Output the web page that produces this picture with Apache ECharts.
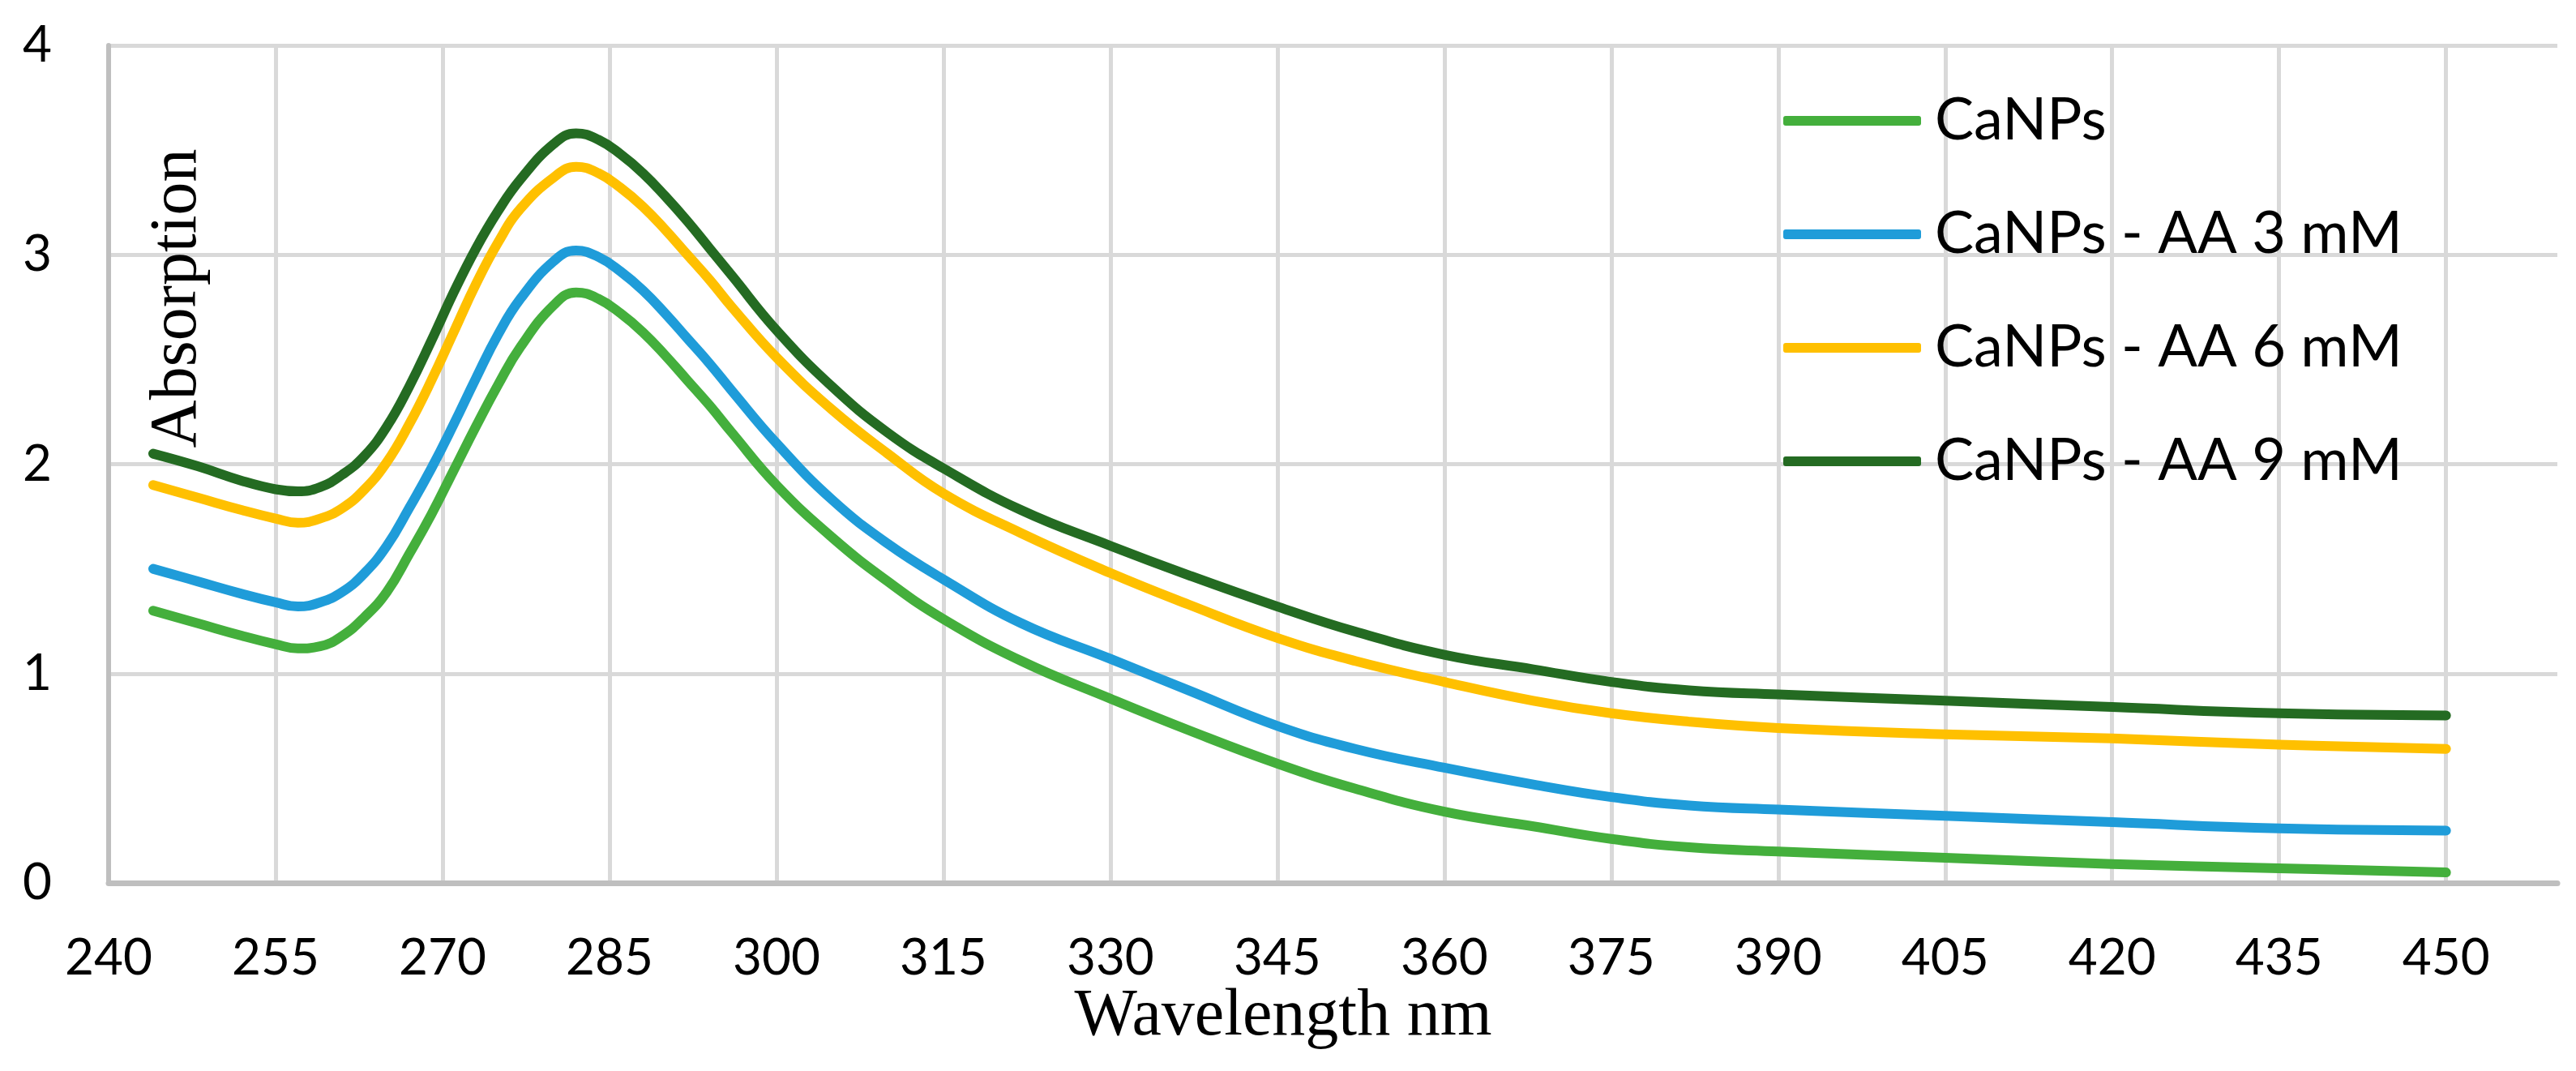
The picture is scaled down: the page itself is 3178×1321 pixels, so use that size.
<!DOCTYPE html>
<html>
<head>
<meta charset="utf-8">
<script src="https://cdn.jsdelivr.net/npm/echarts@6/dist/echarts.min.js"></script>
<style>
html,body{margin:0;padding:0;background:#fff;}
#chart{width:3178px;height:1321px;}
</style>
</head>
<body>
<div id="chart"></div>
<script>
const wavelengths = [244, 248, 252, 255, 257, 259, 261, 263, 265, 267, 269, 271, 273, 275, 277, 280, 282, 284, 286, 288, 290, 292, 294, 296, 300, 305, 310, 315, 322, 330, 337, 345, 352, 360, 368, 375, 382, 390, 405, 420, 435, 450];
const seriesNames = ['CaNPs', 'CaNPs - AA 3 mM', 'CaNPs - AA 6 mM', 'CaNPs - AA 9 mM'];
const caNPs = [1.30, 1.24, 1.18, 1.14, 1.12, 1.13, 1.18, 1.27, 1.39, 1.57, 1.76, 1.97, 2.18, 2.38, 2.56, 2.76, 2.82, 2.79, 2.72, 2.63, 2.52, 2.40, 2.28, 2.15, 1.90, 1.65, 1.44, 1.26, 1.06, 0.88, 0.73, 0.57, 0.45, 0.34, 0.27, 0.21, 0.17, 0.15, 0.12, 0.09, 0.07, 0.05];
const aa3mM = [1.50, 1.44, 1.38, 1.34, 1.32, 1.34, 1.39, 1.48, 1.61, 1.79, 1.98, 2.19, 2.41, 2.62, 2.79, 2.97, 3.02, 2.99, 2.92, 2.83, 2.72, 2.60, 2.48, 2.35, 2.10, 1.83, 1.62, 1.45, 1.24, 1.07, 0.92, 0.75, 0.64, 0.55, 0.47, 0.41, 0.37, 0.35, 0.32, 0.29, 0.26, 0.25];
const aa6mM = [1.90, 1.84, 1.78, 1.74, 1.72, 1.74, 1.79, 1.88, 2.01, 2.19, 2.40, 2.63, 2.86, 3.06, 3.22, 3.37, 3.42, 3.39, 3.32, 3.23, 3.12, 3.00, 2.88, 2.75, 2.51, 2.26, 2.05, 1.86, 1.67, 1.48, 1.33, 1.17, 1.06, 0.96, 0.87, 0.81, 0.77, 0.74, 0.71, 0.69, 0.66, 0.64];
const aa9mM = [2.05, 1.99, 1.92, 1.88, 1.87, 1.89, 1.95, 2.04, 2.18, 2.37, 2.59, 2.82, 3.03, 3.21, 3.36, 3.53, 3.58, 3.55, 3.48, 3.39, 3.28, 3.16, 3.03, 2.90, 2.64, 2.37, 2.15, 1.98, 1.78, 1.61, 1.47, 1.32, 1.20, 1.09, 1.02, 0.96, 0.92, 0.90, 0.87, 0.84, 0.81, 0.80];
const colors = ['#44AF3C', '#1F9CD9', '#FFC000', '#246B22'];
const xTicks = [240, 255, 270, 285, 300, 315, 330, 345, 360, 375, 390, 405, 420, 435, 450];
const yTicks = [0, 1, 2, 3, 4];

const allValues = [caNPs, aa3mM, aa6mM, aa9mM];
const chart = echarts.init(document.getElementById('chart'), null, {renderer: 'canvas'});
const labelFont = 'Lato, "Open Sans", sans-serif';
const serifFont = '"Liberation Serif", "DejaVu Serif", serif';

const series = seriesNames.map((name, i) => ({
  name: name,
  type: 'line',
  data: wavelengths.map((w, j) => [w, allValues[i][j]]),
  smooth: 0.45,
  showSymbol: false,
  symbol: 'none',
  lineStyle: {color: colors[i], width: 12, cap: 'round', join: 'round'},
  itemStyle: {color: colors[i]},
  emphasis: {disabled: true},
  z: 3 + i
}));

chart.setOption({
  animation: false,
  backgroundColor: '#ffffff',
  grid: {left: 134, right: 23, top: 56, bottom: 232, containLabel: false},
  xAxis: {
    type: 'value',
    min: xTicks[0],
    max: 460,
    interval: 15,
    axisLine: {show: true, lineStyle: {color: '#BFBFBF', width: 7}},
    axisTick: {show: false},
    axisLabel: {
      show: true, margin: 62, color: '#000', fontSize: 62, fontFamily: labelFont,
      showMaxLabel: false,
      formatter: v => (xTicks.indexOf(v) >= 0 ? String(v) : '')
    },
    splitLine: {show: true, showMaxLine: false, lineStyle: {color: '#D9D9D9', width: 5}}
  },
  yAxis: {
    type: 'value',
    min: yTicks[0],
    max: yTicks[yTicks.length - 1],
    interval: 1,
    axisLine: {show: true, lineStyle: {color: '#BFBFBF', width: 6}},
    axisTick: {show: false},
    axisLabel: {show: true, margin: 70, color: '#000', fontSize: 62, fontFamily: labelFont},
    splitLine: {show: true, lineStyle: {color: '#D9D9D9', width: 5}}
  },
  legend: {
    orient: 'vertical',
    left: 2195,
    top: 108,
    itemWidth: 170,
    itemHeight: 12,
    itemGap: 68,
    icon: 'roundRect',
    data: seriesNames,
    textStyle: {fontSize: 72, fontFamily: labelFont, color: '#000', lineHeight: 60, padding: [0, 0, 0, 12]}
  },
  graphic: [
    {
      type: 'text', x: 219, y: 368, rotation: Math.PI / 2,
      style: {text: 'Absorption', font: '82px ' + serifFont, fill: '#000', textAlign: 'center', textVerticalAlign: 'middle'},
      z: 10
    },
    {
      type: 'text', x: 1583, y: 1254,
      style: {text: 'Wavelength nm', font: '82px ' + serifFont, fill: '#000', textAlign: 'center', textVerticalAlign: 'middle'},
      z: 10
    }
  ],
  series: series
});
</script>
</body>
</html>
